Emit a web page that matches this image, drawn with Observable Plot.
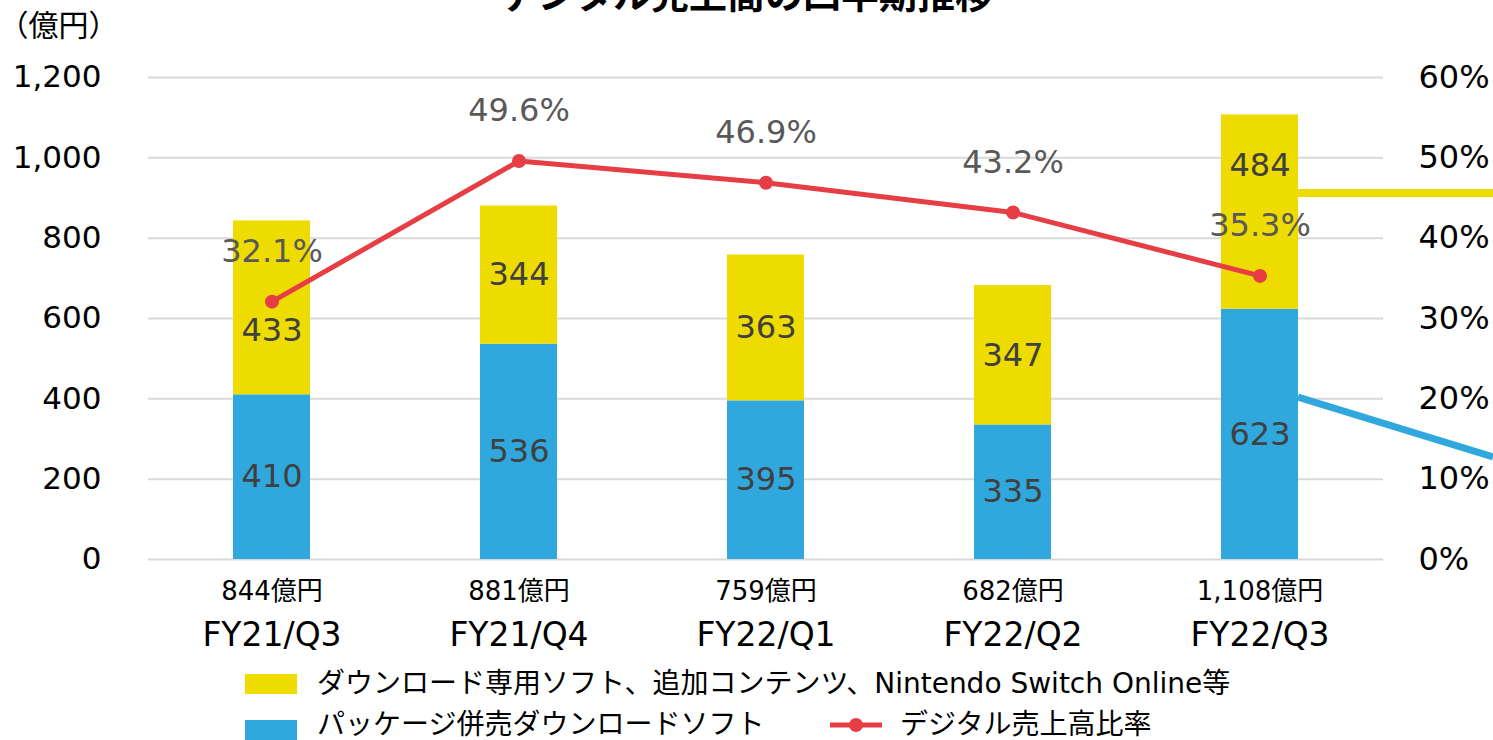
<!DOCTYPE html>
<html><head><meta charset="utf-8">
<script src="https://cdn.jsdelivr.net/npm/d3@7"></script>
<script src="https://cdn.jsdelivr.net/npm/@observablehq/plot@0.6"></script>
<style>
html,body{margin:0;padding:0;background:#fff;overflow:hidden;width:1493px;height:740px;position:relative;
  font-family:"DejaVu Sans","Noto Sans CJK JP",sans-serif;}
#title{position:absolute;top:-24px;left:0;width:1493px;text-align:center;font-size:38px;line-height:38px;font-weight:bold;color:#000;}
#chart{position:absolute;top:0;left:0;}
#legend{position:absolute;top:660px;left:0;width:1493px;height:80px;font-size:28px;color:#000;}
.row{position:absolute;left:0;height:40px;width:1493px;}
.sw{position:absolute;width:52px;height:20px;}
.lt{position:absolute;white-space:nowrap;line-height:40px;}
</style></head>
<body>
<div id="title">デジタル売上高の四半期推移</div>
<div id="chart"></div>
<div id="legend"></div>
<script>
const categories = ["FY21/Q3","FY21/Q4","FY22/Q1","FY22/Q2","FY22/Q3"];
const totalLabels = ["844億円","881億円","759億円","682億円","1,108億円"];
const packageDownload = [410,536,395,335,623];
const downloadOnly = [433,344,363,347,484];
const digitalRatio = [32.1,49.6,46.9,43.2,35.3];
const leftTicks = [0,200,400,600,800,1000,1200];
const rightTicks = [0,10,20,30,40,50,60];
const unitLabel = "（億円）";
const seriesNames = ["ダウンロード専用ソフト、追加コンテンツ、Nintendo Switch Online等","パッケージ併売ダウンロードソフト","デジタル売上高比率"];
const colors = {yellow:"#EEDC00", blue:"#30A8DD", red:"#E63E44"};
// leader lines leaving the frame at the right (values in 億円 scale)
const yellowLeader = [911, 911];
const blueLeader = [403, 254];

const ratioToY = 1200/60;
const rows = categories.map((c,i)=>({cat:c, pkg:packageDownload[i], dl:downloadOnly[i], top:packageDownload[i]+downloadOnly[i], ratio:digitalRatio[i], total:totalLabels[i], i}));
const font = '"DejaVu Sans","Noto Sans CJK JP",sans-serif';

const plot = Plot.plot({
  width:1493, height:660,
  marginLeft:148, marginRight:110, marginTop:77, marginBottom:101,
  style:{fontFamily:font, fontSize:"31px", background:"transparent", overflow:"visible"},
  x:{domain:categories, paddingInner:0.688, paddingOuter:0.344, axis:null},
  y:{domain:[0,1200], axis:null},
  marks:[
    Plot.gridY(leftTicks, {stroke:"#d9d9d9", strokeOpacity:1, strokeWidth:2}),
    Plot.axisY(leftTicks, {anchor:"left", tickSize:0, tickPadding:47, tickFormat:d3.format(","), fill:"#000", fontSize:31, label:null}),
    Plot.axisY(rightTicks.map(t=>t*ratioToY), {anchor:"right", tickSize:0, tickPadding:35, tickFormat:d=>(d/ratioToY)+"%", fill:"#000", fontSize:32, label:null}),
    Plot.text([unitLabel], {frameAnchor:"top-left", text:d=>d, dx:-150, dy:-63, textAnchor:"start", fontSize:30, fill:"#000"}),
    Plot.barY(rows, {x:"cat", y1:0, y2:"pkg", fill:colors.blue}),
    Plot.barY(rows, {x:"cat", y1:"pkg", y2:"top", fill:colors.yellow}),
    Plot.text(rows, {x:"cat", y:d=>d.pkg/2, text:d=>String(d.pkg), fill:"#404040", fontSize:32}),
    Plot.text(rows.filter(d=>d.i>0 && d.i<4), {x:"cat", y:d=>d.pkg+d.dl/2, text:d=>String(d.dl), fill:"#404040", fontSize:32}),
    Plot.text(rows.filter(d=>d.i===0), {x:"cat", y:d=>d.pkg+d.dl/2, dy:23, text:d=>String(d.dl), fill:"#404040", fontSize:32}),
    Plot.text(rows.filter(d=>d.i===4), {x:"cat", y:d=>d.pkg+d.dl/2, dy:-46, text:d=>String(d.dl), fill:"#404040", fontSize:32}),
    Plot.line(rows, {x:"cat", y:d=>d.ratio*ratioToY, stroke:colors.red, strokeWidth:5}),
    Plot.dot(rows, {x:"cat", y:d=>d.ratio*ratioToY, r:7, fill:colors.red}),
    Plot.text(rows, {x:"cat", y:d=>d.ratio*ratioToY, dy:-50, text:d=>d.ratio.toFixed(1)+"%", fill:"#595959", fontSize:32}),
    Plot.text(rows, {x:"cat", frameAnchor:"bottom", dy:40, text:"total", fill:"#000", fontSize:26}),
    Plot.text(rows, {x:"cat", frameAnchor:"bottom", dy:86, text:"cat", fill:"#000", fontSize:33})
  ]
});
document.getElementById("chart").appendChild(plot);

// leader lines from the last bar's right edge to the edge of the picture
const ys = plot.scale("y");
const yPx = v => ys.range[0] + (v - ys.domain[0])/(ys.domain[1]-ys.domain[0])*(ys.range[1]-ys.range[0]);
const svg = d3.select(plot.tagName.toLowerCase()==="svg" ? plot : plot.querySelector("svg"));
const bars = svg.selectAll('g[aria-label="bar"]').nodes();
const lastRect = bars[bars.length-1].querySelectorAll("rect");
const r = lastRect[lastRect.length-1];
const xEdge = +r.getAttribute("x") + +r.getAttribute("width");
svg.append("line").attr("x1",xEdge).attr("x2",1493).attr("y1",yPx(yellowLeader[0])).attr("y2",yPx(yellowLeader[1]))
  .attr("stroke",colors.yellow).attr("stroke-width",8);
svg.append("line").attr("x1",xEdge).attr("x2",1493).attr("y1",yPx(blueLeader[0])).attr("y2",yPx(blueLeader[1]))
  .attr("stroke",colors.blue).attr("stroke-width",7);

// legend
const lg = document.getElementById("legend");
lg.innerHTML = `
<div class="row" style="top:4px">
  <div class="sw" style="left:245px;top:10px;background:${colors.yellow}"></div>
  <div class="lt" style="left:317px;top:0">${seriesNames[0]}</div>
</div>
<div class="row" style="top:45px">
  <div class="sw" style="left:245px;top:15px;background:${colors.blue}"></div>
  <div class="lt" style="left:317px;top:0">${seriesNames[1]}</div>
  <svg style="position:absolute;left:828px;top:0" width="56" height="40"><line x1="2" x2="54" y1="20" y2="20" stroke="${colors.red}" stroke-width="5"/><circle cx="28" cy="20" r="7" fill="${colors.red}"/></svg>
  <div class="lt" style="left:900px;top:0">${seriesNames[2]}</div>
</div>`;
</script>
</body></html>
